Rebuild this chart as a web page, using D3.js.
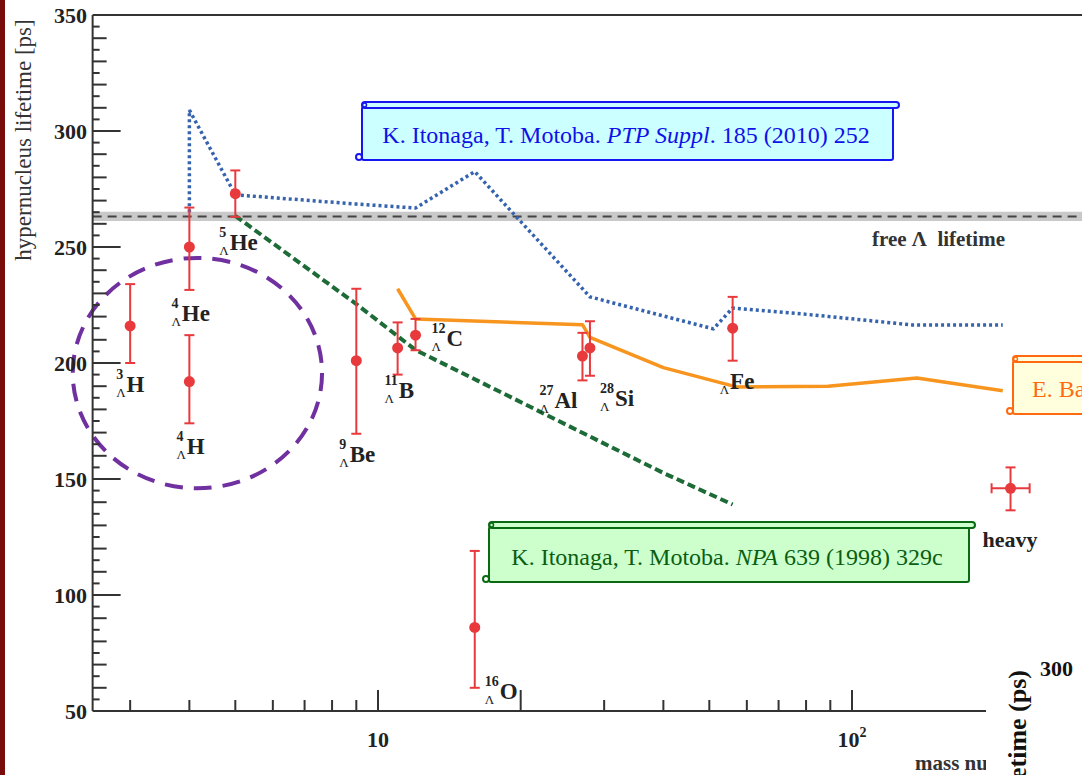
<!DOCTYPE html>
<html><head><meta charset="utf-8">
<script src="https://cdn.jsdelivr.net/npm/d3@7"></script>
<style>body{margin:0;background:#fff;overflow:hidden} svg{display:block}</style>
</head><body>
<script>
// ---------- data ----------
const nuclei      = ["3H","4He","4H","5He","9Be","11B","12C","16O","27Al","28Si","56Fe","heavy"];
const massNumbers = [3, 4, 4, 5, 9, 11, 12, 16, 27, 28, 56, 216];
const lifetimes   = [216, 250, 192, 273, 201, 206.5, 212, 86, 203, 206.5, 215, 146];
const errUp       = [18, 17, 20, 10, 31, 11, 7, 33, 10, 11.5, 13.5, 9];
const errDown     = [16, 18.5, 18, 10, 31.5, 11.5, 6.5, 26, 10.5, 12, 14, 9.5];
const massErrLow  = [0,0,0,0,0,0,0,0,0,0,0,19];
const massErrHigh = [0,0,0,0,0,0,0,0,0,0,0,21];
const labelSup    = ["3","4","4","5","9","11","12","16","27","28","",""];
const labelElem   = ["H","He","H","He","Be","B","C","O","Al","Si","Fe","heavy"];

const itonaga2010A = [4, 4, 5, 9, 12, 16, 28, 51, 56, 83, 134, 208];
const itonaga2010T = [265, 309, 272.5, 268.5, 266.8, 282.5, 228.5, 214.7, 223.7, 220.7, 216.4, 216.4];
const itonaga1998A = [5, 9, 12, 16, 28, 40, 56];
const itonaga1998T = [263.4, 225.4, 205.6, 193, 168.3, 152.6, 139];
const bauerA = [11, 12, 27, 28, 40, 57, 89, 137, 208];
const bauerT = [232, 219, 216.5, 211, 198, 189.7, 190, 193.5, 188];

const freeLambda = 263.2, freeLambdaErr = 2.0;
const yTickValues = [50, 100, 150, 200, 250, 300, 350];
const xMinorTicks = [3,4,5,6,7,8,9,30,40,50,60,70,80,90,200,300];
const xMajorTicks = [10, 20, 100];
const xTickLabels = [{v:10, t:"10", s:""}, {v:100, t:"10", s:"2"}];

// ---------- layout (label offsets in px from point) ----------
const labelOffsets = [[-14,66],[-18,74],[-13,72],[-16,56],[-17,101],[-13,50],[16,11],[10,72],[-43,52],[10,58],[-13,61],[-28,59]];

const W = 1082, H = 775;
const serif = "'Liberation Serif','Times New Roman',serif";
const svg = d3.select("body").append("svg").attr("width", W).attr("height", H)
  .style("font-family", serif);

svg.append("rect").attr("width", W).attr("height", H).attr("fill", "#fff");
svg.append("rect").attr("x",0).attr("y",0).attr("width",5).attr("height",H).attr("fill","#7a0b0b");

const decade = 474;
const x0px = 378 - decade * (1 - Math.log10(2.5));
const x = d3.scaleLog().domain([2.5, 400]).range([x0px, x0px + decade * Math.log10(400/2.5)]);
const y = d3.scaleLinear().domain([50, 350]).range([711, 15]);

const axisColor = "#333";

// free lambda band
svg.append("rect").attr("x", x(2.5)).attr("width", W - x(2.5))
  .attr("y", y(freeLambda + freeLambdaErr)).attr("height", y(freeLambda - freeLambdaErr) - y(freeLambda + freeLambdaErr))
  .attr("fill", "#c9c9c9");
svg.append("line").attr("x1", x(2.5)).attr("x2", W).attr("y1", y(freeLambda)).attr("y2", y(freeLambda))
  .attr("stroke", "#444").attr("stroke-width", 2).attr("stroke-dasharray", "9 6");
svg.append("text").attr("x", 872).attr("y", 246).attr("font-size", 21).attr("font-weight", "bold")
  .attr("fill", "#333").attr("xml:space","preserve").text("free \u039B  lifetime");

// theory lines
const line = d3.line();
function path(A, T) { return line(A.map((a,i)=>[x(a), y(T[i])])); }
svg.append("path").attr("d", path(itonaga1998A, itonaga1998T)).attr("fill","none")
  .attr("stroke","#1d6b37").attr("stroke-width",4).attr("stroke-dasharray","8 4");
svg.append("path").attr("d", path(bauerA, bauerT)).attr("fill","none")
  .attr("stroke","#f7951f").attr("stroke-width",3.5).attr("stroke-linejoin","round");
svg.append("path").attr("d", path(itonaga2010A, itonaga2010T)).attr("fill","none")
  .attr("stroke","#3563ae").attr("stroke-width",3.5).attr("stroke-dasharray","3 3");

// purple ellipse (light hypernuclei)
const ellA = [2.27, 7.62], ellT = [146, 245.3];
svg.append("ellipse")
  .attr("cx", (x(ellA[0]) + x(ellA[1]))/2).attr("cy", (y(ellT[0]) + y(ellT[1]))/2)
  .attr("rx", (x(ellA[1]) - x(ellA[0]))/2).attr("ry", (y(ellT[0]) - y(ellT[1]))/2)
  .attr("fill","none").attr("stroke","#7030a0").attr("stroke-width",4).attr("stroke-dasharray","18 11");

// axes
const ax = svg.append("g").attr("stroke", axisColor).attr("stroke-width", 2);
ax.append("line").attr("x1", x(2.5)).attr("x2", x(2.5)).attr("y1", y(350)).attr("y2", y(50));
ax.append("line").attr("x1", x(2.5)).attr("x2", W).attr("y1", y(350)).attr("y2", y(350));
ax.append("line").attr("x1", x(2.5)).attr("x2", 990).attr("y1", y(50)).attr("y2", y(50));
d3.range(55, 350, 5).forEach(v => {
  const len = v % 50 === 0 ? 28 : (v % 10 === 0 ? 14 : 7);
  ax.append("line").attr("x1", x(2.5)).attr("x2", x(2.5) + len).attr("y1", y(v)).attr("y2", y(v));
});
xMinorTicks.forEach(v => ax.append("line").attr("x1", x(v)).attr("x2", x(v)).attr("y1", y(50)).attr("y2", y(50) - 11));
xMajorTicks.forEach(v => ax.append("line").attr("x1", x(v)).attr("x2", x(v)).attr("y1", y(50)).attr("y2", y(50) - 21));

svg.append("g").selectAll("text").data(yTickValues).join("text")
  .attr("x", 87).attr("y", d => y(d)).attr("dy", "0.36em").attr("text-anchor", "end")
  .attr("font-size", 22).attr("font-weight", "bold").attr("fill", "#222").text(d => d);
xTickLabels.forEach(d => {
  const t = svg.append("text").attr("x", x(d.v)).attr("y", 747).attr("text-anchor","middle")
    .attr("font-size", 22).attr("font-weight","bold").attr("fill","#222");
  t.append("tspan").text(d.t);
  if (d.s) t.append("tspan").attr("dy", -10).attr("font-size", 14).text(d.s);
});
svg.append("text").attr("transform", "translate(31,140) rotate(-90)").attr("text-anchor","middle")
  .attr("font-size", 23).attr("fill", "#333").text("hypernucleus lifetime [ps]");
svg.append("text").attr("x", 915).attr("y", 770).attr("font-size", 21).attr("font-weight","bold")
  .attr("fill","#333").text("mass number A");

// data points
const red = "#e8393c";
const pts = svg.append("g").attr("stroke", red).attr("stroke-width", 2);
massNumbers.forEach((a, i) => {
  const px = x(a), py = y(lifetimes[i]);
  const yt = y(lifetimes[i] + errUp[i]), yb = y(lifetimes[i] - errDown[i]);
  pts.append("line").attr("x1", px).attr("x2", px).attr("y1", yt).attr("y2", yb);
  pts.append("line").attr("x1", px-5).attr("x2", px+5).attr("y1", yt).attr("y2", yt);
  pts.append("line").attr("x1", px-5).attr("x2", px+5).attr("y1", yb).attr("y2", yb);
  if (massErrLow[i] || massErrHigh[i]) {
    const xl = x(a - massErrLow[i]), xr = x(a + massErrHigh[i]);
    pts.append("line").attr("x1", xl).attr("x2", xr).attr("y1", py).attr("y2", py);
    pts.append("line").attr("x1", xl).attr("x2", xl).attr("y1", py-5).attr("y2", py+5);
    pts.append("line").attr("x1", xr).attr("x2", xr).attr("y1", py-5).attr("y2", py+5);
  }
  pts.append("circle").attr("cx", px).attr("cy", py).attr("r", 5.5).attr("fill", red).attr("stroke", "none");
});

// labels
const lab = svg.append("g").attr("fill", "#222");
massNumbers.forEach((a, i) => {
  const sx = x(a) + labelOffsets[i][0], gy = y(lifetimes[i]) + labelOffsets[i][1];
  if (labelElem[i] === "heavy") {
    lab.append("text").attr("x", sx).attr("y", gy).attr("font-size", 22).attr("font-weight","bold").text("heavy");
    return;
  }
  let w = 0;
  if (labelSup[i]) {
    const s = lab.append("text").attr("x", sx).attr("y", gy - 13).attr("font-size", 14).attr("font-weight","bold").text(labelSup[i]);
    w = Math.max(w, s.node().getComputedTextLength());
  }
  const l = lab.append("text").attr("x", sx).attr("y", gy + 5).attr("font-size", 13).text("\u039B");
  w = Math.max(w, l.node().getComputedTextLength());
  lab.append("text").attr("x", sx + w + 1).attr("y", gy).attr("font-size", 23).attr("font-weight","bold").text(labelElem[i]);
});

// scroll-style reference boxes
function scrollBox(bx, by, bw, bh, fill, stroke) {
  const g = svg.append("g").attr("stroke", stroke).attr("stroke-width", 2).attr("fill", fill);
  g.append("rect").attr("x", bx).attr("y", by + 5).attr("width", bw).attr("height", bh - 5).attr("rx", 2);
  g.append("rect").attr("x", bx).attr("y", by).attr("width", bw + 6).attr("height", 6).attr("rx", 3);
  g.append("circle").attr("cx", bx + 2.5).attr("cy", by + 3).attr("r", 2).attr("fill", "none").attr("stroke-width", 1.5);
  g.append("circle").attr("cx", bx - 3).attr("cy", by + bh - 3).attr("r", 3).attr("fill", "none");
  return g;
}
function refText(cx, cy, parts, color, anchor) {
  const t = svg.append("text").attr("x", cx).attr("y", cy).attr("text-anchor", anchor || "middle")
    .attr("font-size", 24).attr("fill", color).attr("xml:space","preserve");
  parts.forEach(p => t.append("tspan").attr("font-style", p[1] ? "italic" : "normal").text(p[0]));
}
scrollBox(362, 102, 531, 58, "#ccffff", "#1616f0");
refText(626, 143, [["K. Itonaga, T. Motoba. ",0],["PTP Suppl",1],[". 185 (2010) 252",0]], "#1010e8");
scrollBox(489, 522, 480, 60, "#ccffcc", "#0a6a14");
refText(727, 565, [["K. Itonaga, T. Motoba. ",0],["NPA",1],[" 639 (1998) 329c",0]], "#0a5e12");
scrollBox(1013, 356, 120, 58, "#ffffdd", "#ff6a10");
refText(1032, 397, [["E. Bauer",0]], "#ff6a10", "start");

// overlaid fragment of another figure (bottom-right)
svg.append("rect").attr("x", 986).attr("y", 649).attr("width", W - 986).attr("height", H - 649).attr("fill", "#fff");
svg.append("text").attr("x", 1040).attr("y", 676).attr("font-size", 22).attr("font-weight","bold").attr("fill","#111").text("300");
svg.append("text").attr("transform", "translate(1026,670) rotate(-90)").attr("text-anchor","end")
  .attr("font-size", 26).attr("font-weight","bold").attr("fill","#111").text("lifetime (ps)");
</script>
</body></html>
